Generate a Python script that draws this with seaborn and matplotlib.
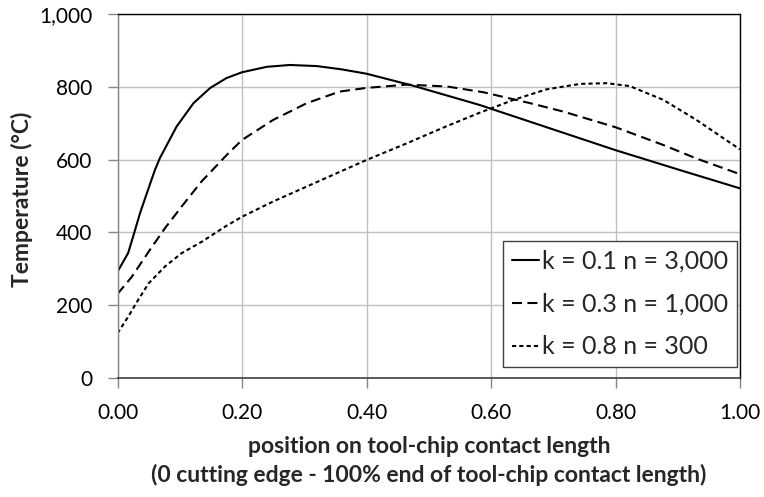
import matplotlib
matplotlib.use("Agg")
import matplotlib.pyplot as plt
from matplotlib.ticker import FuncFormatter
import seaborn as sns
import pandas as pd

# ---- data ----
x_k01 = [0, 0.017, 0.025, 0.036, 0.047, 0.060, 0.068, 0.095, 0.122, 0.149, 0.175, 0.20,
         0.24, 0.277, 0.32, 0.36, 0.40, 0.475, 0.582, 0.80, 0.904, 1.0]
y_k01 = [292, 343, 388, 452, 507, 571, 604, 691, 755, 797, 824, 840,
         855, 860, 857, 848, 836, 803, 750, 626, 571, 521]

x_k03 = [0, 0.023, 0.050, 0.076, 0.103, 0.135, 0.149, 0.175, 0.20, 0.25, 0.304,
         0.357, 0.40, 0.465, 0.529, 0.588, 0.663, 0.716, 0.80, 0.877, 0.930, 1.0]
y_k03 = [231, 278, 347, 411, 471, 540, 565, 612, 654, 709, 755,
         787, 797, 806, 801, 785, 755, 732, 689, 640, 603, 560]

x_k08 = [0, 0.017, 0.033, 0.050, 0.076, 0.103, 0.135, 0.173, 0.20, 0.25, 0.304,
         0.40, 0.465, 0.529, 0.582, 0.636, 0.689, 0.743, 0.786, 0.823, 0.877, 0.930, 1.0]
y_k08 = [123, 168, 214, 260, 306, 343, 374, 416, 443, 485, 526,
         599, 645, 692, 729, 764, 793, 808, 810, 802, 764, 709, 628]

series_labels = ["k = 0.1 n = 3,000", "k = 0.3 n = 1,000", "k = 0.8 n = 300"]
x_ticks = [0.0, 0.2, 0.4, 0.6, 0.8, 1.0]
y_ticks = [0, 200, 400, 600, 800, 1000]

df = pd.concat([
    pd.DataFrame({"x": x_k01, "y": y_k01, "series": series_labels[0]}),
    pd.DataFrame({"x": x_k03, "y": y_k03, "series": series_labels[1]}),
    pd.DataFrame({"x": x_k08, "y": y_k08, "series": series_labels[2]}),
])

sns.set_theme(style="white")
plt.rcParams["font.family"] = ["Lato", "DejaVu Sans"]

fig = plt.figure(figsize=(7.64, 4.97), dpi=100)
ax = fig.add_axes([0.1538, 0.2394, 0.8148, 0.7324])

styles = {
    series_labels[0]: "-",
    series_labels[1]: (0, (4.8, 2.6)),
    series_labels[2]: (0, (2.0, 1.5)),
}
for lab in series_labels:
    sub = df[df["series"] == lab]
    sns.lineplot(data=sub, x="x", y="y", ax=ax, color="black", linewidth=1.5,
                 linestyle=styles[lab], label=lab, sort=False, estimator=None)

ax.set_xlim(0, 1)
ax.set_ylim(0, 1000)
ax.set_xticks(x_ticks)
ax.set_yticks(y_ticks)
ax.xaxis.set_major_formatter(FuncFormatter(lambda v, p: f"{v:.2f}"))
ax.yaxis.set_major_formatter(FuncFormatter(lambda v, p: f"{int(v):,}"))
ax.grid(True, color="#bfbfbf", linewidth=1.0)
ax.set_axisbelow(True)

for s in ["top", "right"]:
    ax.spines[s].set_color("black")
    ax.spines[s].set_linewidth(1.0)
ax.spines["left"].set_color("#868686")
ax.spines["left"].set_linewidth(1.0)
ax.spines["bottom"].set_color("#404040")
ax.spines["bottom"].set_linewidth(1.2)

ax.tick_params(axis="both", which="major", direction="out", length=7, width=1,
               color="#868686", labelsize=15, labelcolor="black", bottom=True, left=True)
ax.tick_params(axis="x", pad=11)
ax.tick_params(axis="y", pad=11)

ax.set_xlabel("position on tool-chip contact length\n(0 cutting edge - 100% end of tool-chip contact length)",
              fontsize=16.5, fontweight="bold", linespacing=1.4)
ax.set_ylabel("Temperature (°C)", fontsize=16.5, fontweight="bold")
ax.xaxis.set_label_coords(0.5, -0.158)
ax.yaxis.set_label_coords(-0.136, 0.49)

leg = ax.legend(loc="lower right", bbox_to_anchor=(0.995, 0.030), borderaxespad=0,
                fontsize=18, frameon=True, fancybox=False, handlelength=1.1,
                handletextpad=0.12, borderpad=0.35, labelspacing=0.79)
leg.get_frame().set_edgecolor("#404040")
leg.get_frame().set_linewidth(1.0)
leg.get_frame().set_alpha(1)

fig.savefig("out.png", dpi=100)
